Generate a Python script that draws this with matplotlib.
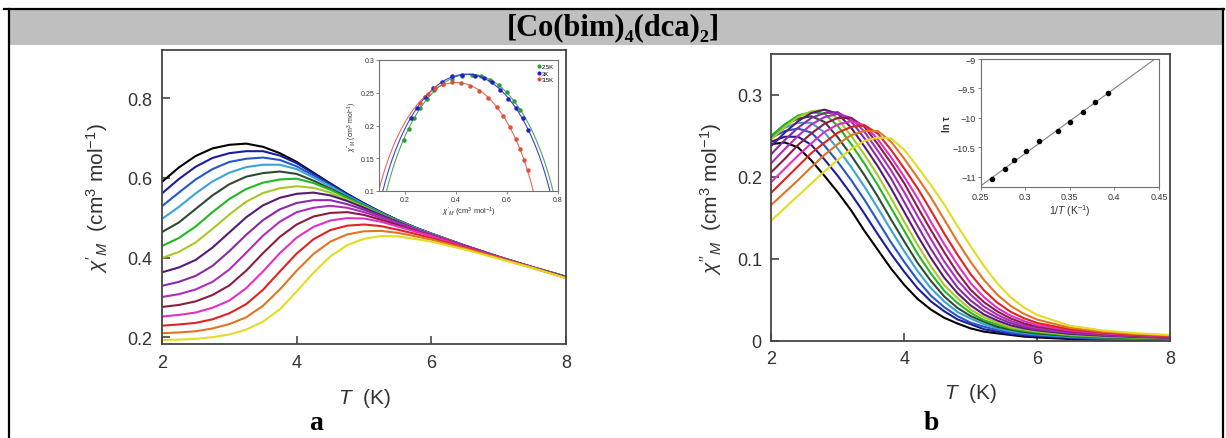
"""AC susceptibility of [Co(bim)4(dca)2].

Panel a: in-phase chi'_M versus T with a Cole-Cole inset.
Panel b: out-of-phase chi''_M versus T with an Arrhenius inset.
"""

import numpy as np
import matplotlib
matplotlib.use("Agg")
import matplotlib.pyplot as plt
from matplotlib.lines import Line2D
from matplotlib.patches import Rectangle

W, H = 1226, 439

# ---------------------------------------------------------------- panel a data
T_RE = [2.0, 2.25, 2.5, 2.75, 3.0, 3.25, 3.5, 3.75, 4.0, 4.25, 4.5,
        4.75, 5.0, 5.25, 5.5, 5.75, 6.0, 6.5, 7.0, 7.5, 8.0]

re_black = [.590, .626, .655, .674, .683, .686, .678, .662, .640, .613, .586,
            .560, .536, .514, .494, .476, .460, .430, .402, .376, .352]
re_navy = [.561, .597, .628, .650, .662, .667, .667, .656, .637, .611, .585,
           .559, .536, .514, .494, .476, .460, .430, .402, .376, .352]
re_blue = [.529, .563, .596, .622, .640, .648, .651, .645, .629, .606, .581,
           .557, .534, .513, .493, .476, .460, .430, .402, .376, .352]
re_cyan = [.497, .527, .561, .591, .613, .627, .633, .633, .622, .601, .579,
           .555, .533, .512, .493, .475, .459, .430, .402, .376, .351]
re_dkgreen = [.464, .488, .522, .556, .584, .603, .612, .616, .610, .593, .573,
              .552, .530, .510, .492, .474, .459, .429, .401, .375, .351]
re_green = [.429, .449, .478, .514, .547, .572, .588, .596, .598, .587, .570,
            .550, .530, .510, .492, .474, .459, .429, .401, .375, .351]
re_lime = [.399, .414, .438, .472, .508, .540, .562, .574, .579, .575, .563,
           .545, .527, .508, .490, .474, .459, .429, .401, .375, .351]
re_indigo = [.363, .375, .394, .425, .463, .501, .531, .550, .560, .563, .556,
             .542, .525, .507, .490, .473, .458, .429, .401, .375, .350]
re_purple = [.329, .339, .354, .379, .416, .457, .494, .521, .537, .544, .544,
             .534, .520, .504, .488, .472, .458, .429, .401, .375, .350]
re_violet = [.301, .308, .320, .339, .370, .412, .455, .490, .514, .525, .530,
             .525, .514, .500, .486, .471, .457, .429, .401, .375, .350]
re_maroon = [.276, .281, .290, .306, .330, .367, .411, .452, .483, .503, .512,
             .514, .507, .495, .482, .468, .455, .428, .401, .375, .350]
re_magenta = [.252, .256, .262, .274, .292, .323, .365, .411, .450, .477, .493,
              .499, .498, .490, .478, .466, .454, .427, .401, .375, .349]
re_red = [.229, .232, .236, .245, .260, .283, .319, .365, .410, .446, .469,
          .480, .483, .479, .470, .460, .449, .425, .400, .375, .349]
re_orange = [.210, .212, .215, .222, .233, .250, .279, .320, .367, .409, .440,
             .458, .466, .467, .462, .454, .445, .423, .399, .374, .349]
re_yellow = [.193, .194, .196, .200, .207, .219, .239, .270, .315, .362, .403,
             .431, .447, .454, .453, .447, .440, .420, .397, .374, .348]

# ---------------------------------------------------------------- panel b data
T_IM = [2.0, 2.2, 2.4, 2.6, 2.8, 3.0, 3.2, 3.4, 3.6, 3.8, 4.0, 4.2, 4.4,
        4.6, 4.8, 5.0, 5.2, 5.4, 5.6, 5.8, 6.0, 6.5, 7.0, 7.5, 8.0]

im_black = [.240, .242, .236, .220, .201, .181, .159, .134, .111, .088, .068,
            .051, .038, .028, .021, .015, .011, .009, .007, .005, .004, .002,
            .001, .001, .000]
im_navy = [.243, .249, .249, .239, .221, .201, .179, .155, .130, .106, .084,
           .064, .048, .036, .026, .020, .014, .011, .008, .0064, .0055,
           .0035, .002, .0014, .0009]
im_blue = [.248, .256, .259, .254, .238, .218, .196, .172, .146, .120, .096,
           .074, .055, .041, .030, .022, .017, .013, .010, .008, .0066, .004,
           .0023, .0015, .0011]
im_cyan = [.250, .260, .266, .266, .254, .234, .212, .188, .162, .135, .109,
           .085, .064, .048, .035, .027, .020, .015, .012, .0093, .0078,
           .0048, .0033, .0023, .0017]
im_dkgreen = [.250, .264, .271, .274, .267, .248, .226, .202, .176, .148, .121,
              .095, .073, .054, .040, .030, .023, .017, .0135, .0107, .0088,
              .0056, .0038, .0028, .0022]
im_green = [.250, .264, .275, .279, .277, .262, .240, .216, .190, .162, .134,
            .106, .082, .061, .046, .034, .025, .0196, .0149, .0121, .0103,
            .0063, .0045, .0034, .0027]
im_lime = [.246, .261, .273, .280, .282, .271, .250, .227, .202, .174, .145,
           .117, .091, .068, .052, .038, .0285, .0219, .0162, .0136, .0113,
           .0074, .0052, .004, .0031]
im_indigo = [.238, .254, .268, .278, .282, .277, .260, .237, .213, .186, .157,
             .128, .101, .077, .058, .043, .032, .0246, .0188, .0151, .0126,
             .0083, .006, .0045, .0035]
im_purple = [.228, .245, .260, .272, .278, .279, .268, .247, .223, .198, .169,
             .140, .112, .087, .065, .049, .0367, .0281, .0215, .0168, .0138,
             .0093, .0067, .005, .0039]
im_violet = [.217, .234, .250, .264, .273, .277, .272, .255, .232, .208, .181,
             .152, .124, .097, .074, .056, .0416, .0317, .0241, .0189, .0156,
             .0104, .0074, .0057, .0044]
im_maroon = [.206, .222, .239, .253, .265, .272, .272, .261, .240, .217, .192,
             .163, .135, .108, .083, .062, .047, .0357, .0272, .0212, .0172,
             .0113, .0082, .0061, .0048]
im_magenta = [.194, .210, .226, .241, .255, .264, .268, .263, .246, .224, .200,
              .174, .145, .118, .093, .070, .0532, .0399, .0306, .024, .019,
              .0124, .0088, .0067, .0052]
im_red = [.181, .197, .213, .229, .242, .254, .261, .263, .253, .233, .210,
          .186, .159, .131, .105, .081, .0614, .0465, .0353, .0275, .0216,
          .0138, .0098, .0074, .0057]
im_orange = [.166, .181, .196, .212, .227, .240, .251, .256, .256, .243, .222,
             .199, .175, .148, .121, .096, .074, .0561, .0426, .0328, .0258,
             .0156, .0109, .0082, .0063]
im_yellow = [.147, .162, .177, .192, .207, .221, .234, .244, .248, .247, .233,
             .212, .190, .1665, .140, .115, .091, .070, .053, .0406, .0314,
             .0181, .0124, .0091, .007]

COLORS = ["#000000", "#1c1c9c", "#2458c8", "#3aa4d8", "#2f4a34", "#22b822",
          "#a8c828", "#561a78", "#8a2aa4", "#b02cc0", "#8c1c44", "#e030c8",
          "#e22222", "#e27424", "#e2dc22"]

RE_CURVES = [re_black, re_navy, re_blue, re_cyan, re_dkgreen, re_green,
             re_lime, re_indigo, re_purple, re_violet, re_maroon, re_magenta,
             re_red, re_orange, re_yellow]
IM_CURVES = [im_black, im_navy, im_blue, im_cyan, im_dkgreen, im_green,
             im_lime, im_indigo, im_purple, im_violet, im_maroon, im_magenta,
             im_red, im_orange, im_yellow]

# ---------------------------------------------------- Cole-Cole inset (panel a)
COLE_LABELS = ["2.5K", "3K", "3.5K"]
COLE_COLORS = ["#2e9a3a", "#1f1fd0", "#e0503c"]
cole_x_25 = [0.198, 0.216, 0.236, 0.259, 0.286, 0.317, 0.351, 0.387, 0.425,
             0.463, 0.500, 0.536, 0.570, 0.601, 0.628, 0.651]
cole_y_25 = [0.178, 0.195, 0.211, 0.227, 0.241, 0.254, 0.264, 0.271, 0.276,
             0.277, 0.275, 0.270, 0.262, 0.251, 0.238, 0.224]
cole_x_30 = [0.224, 0.250, 0.280, 0.312, 0.348, 0.387, 0.426, 0.475, 0.510,
             0.541, 0.573, 0.606, 0.636, 0.662, 0.684]
cole_y_30 = [0.211, 0.227, 0.244, 0.257, 0.267, 0.275, 0.277, 0.276, 0.272,
             0.267, 0.254, 0.241, 0.226, 0.211, 0.193]
cole_x_35 = [0.262, 0.290, 0.318, 0.349, 0.384, 0.421, 0.456, 0.492, 0.527,
             0.560, 0.586, 0.612, 0.635, 0.651, 0.667, 0.682]
cole_y_35 = [0.235, 0.248, 0.257, 0.264, 0.266, 0.265, 0.261, 0.253, 0.242,
             0.228, 0.214, 0.197, 0.179, 0.164, 0.147, 0.132]

# -------------------------------------------------- Arrhenius inset (panel b)
inv_T = [0.2634, 0.2772, 0.2875, 0.3014, 0.3155, 0.3372, 0.3506, 0.3647,
         0.3781, 0.3930]
ln_tau = [-11.044, -10.874, -10.720, -10.558, -10.393, -10.229, -10.065,
          -9.900, -9.736, -9.578]

plt.rcParams["font.family"] = ["Liberation Sans", "DejaVu Sans"]
plt.rcParams["mathtext.fontset"] = "custom"
plt.rcParams["mathtext.rm"] = "Liberation Sans"
plt.rcParams["mathtext.it"] = "Liberation Sans:italic"
plt.rcParams["mathtext.bf"] = "Liberation Sans:bold"

TEXT = "#333333"
SPINE = "#454545"
SERIF = ["Liberation Serif", "DejaVu Serif"]


def box(x0, y0, x1, y1):
    """Pixel rectangle (left, top, right, bottom) -> figure fraction."""
    return [x0 / W, 1 - y1 / H, (x1 - x0) / W, (y1 - y0) / H]


def style_main(ax):
    for sp in ax.spines.values():
        sp.set_color(SPINE)
        sp.set_linewidth(1.3)
    ax.tick_params(direction="in", length=6, width=1.2, color=SPINE,
                   labelsize=13, labelcolor=TEXT, pad=7)


def style_inset(ax, size):
    for sp in ax.spines.values():
        sp.set_color("#707070")
        sp.set_linewidth(0.8)
    ax.tick_params(direction="out", length=2, width=0.6, color="#707070",
                   labelsize=size, labelcolor=TEXT, pad=1.5)


def fit_circle(x, y):
    """Least-squares circle through the points: centre and radius."""
    x = np.asarray(x)
    y = np.asarray(y)
    A = np.column_stack([x, y, np.ones_like(x)])
    D, E, F = np.linalg.lstsq(A, -(x ** 2 + y ** 2), rcond=None)[0]
    cx, cy = -D / 2, -E / 2
    return cx, cy, np.sqrt(cx ** 2 + cy ** 2 - F)


fig = plt.figure(figsize=(W / 100, H / 100), dpi=100)

# table-style header and borders
fig.add_artist(Rectangle((9 / W, 1 - 46 / H), 1214 / W, 36 / H,
                         transform=fig.transFigure, facecolor="#bfbfbf",
                         edgecolor="none"))
fig.add_artist(Line2D([4 / W, 1224 / W], [1 - 10 / H, 1 - 10 / H],
                      transform=fig.transFigure, color="black", lw=1.6))
for xb in (9, 1223):
    fig.add_artist(Line2D([xb / W, xb / W], [0, 1 - 10 / H],
                          transform=fig.transFigure, color="black", lw=1.6))
fig.text(613 / W, 1 - 28 / H, "[Co(bim)\u2084(dca)\u2082]", ha="center",
         va="center", fontsize=22, fontweight="bold", family=SERIF)

# ----------------------------------------------------------------- panel a
ax1 = fig.add_axes(box(162, 51, 566, 345))
for vals, c in zip(RE_CURVES, COLORS):
    ax1.plot(T_RE, vals, color=c, lw=1.5)
ax1.set_xlim(2, 8)
ax1.set_ylim(0.183, 0.921)
ax1.set_xticks([2, 4, 6, 8])
ax1.set_yticks([0.2, 0.4, 0.6, 0.8])
style_main(ax1)
ax1.set_xlabel(r"$T$  (K)", fontsize=15, color=TEXT, labelpad=11)
ax1.set_ylabel(r"$\chi'_M$  (cm$^3$ mol$^{-1}$)", fontsize=15, color=TEXT,
               labelpad=12)

ins1 = fig.add_axes(box(379, 61, 558, 192))
cole_sets = [(cole_x_25, cole_y_25), (cole_x_30, cole_y_30),
             (cole_x_35, cole_y_35)]
theta = np.linspace(0, np.pi, 400)
for (cx_pts, cy_pts), c, lab in zip(cole_sets, COLE_COLORS, COLE_LABELS):
    cx, cy, r = fit_circle(cx_pts, cy_pts)
    ins1.plot(cx + r * np.cos(theta), cy + r * np.sin(theta), color=c,
              lw=0.8, alpha=0.85)
    ins1.plot(cx_pts, cy_pts, "o", color=c, ms=2.2, label=lab)
ins1.set_xlim(0.1, 0.8)
ins1.set_ylim(0.1, 0.3)
ins1.set_xticks([0.2, 0.4, 0.6, 0.8])
ins1.set_yticks([0.1, 0.15, 0.2, 0.25, 0.3])
ins1.set_xticklabels(["0.2", "0.4", "0.6", "0.8"])
ins1.set_yticklabels(["0.1", "0.15", "0.2", "0.25", "0.3"])
style_inset(ins1, 5)
ins1.set_xlabel(r"$\chi'_M$ (cm$^3$ mol$^{-1}$)", fontsize=5.5, color=TEXT,
                labelpad=1)
ins1.set_ylabel(r"$\chi''_M$ (cm$^3$ mol$^{-1}$)", fontsize=5, color=TEXT,
                labelpad=1)
ins1.legend(loc="upper right", fontsize=4.2, frameon=False, handletextpad=0.1,
            handlelength=0.8, labelspacing=0.25, borderaxespad=0.3,
            markerscale=0.9)

# ----------------------------------------------------------------- panel b
ax2 = fig.add_axes(box(771.5, 55, 1170, 341.7))
for vals, c in zip(IM_CURVES, COLORS):
    ax2.plot(T_IM, vals, color=c, lw=1.5)
ax2.set_xlim(2, 8)
ax2.set_ylim(0, 0.35)
ax2.set_xticks([2, 4, 6, 8])
ax2.set_yticks([0, 0.1, 0.2, 0.3])
ax2.set_yticklabels(["0", "0.1", "0.2", "0.3"])
style_main(ax2)
ax2.set_xlabel(r"$T$  (K)", fontsize=15, color=TEXT, labelpad=10)
ax2.set_ylabel(r"$\chi''_M$  (cm$^3$ mol$^{-1}$)", fontsize=15, color=TEXT,
               labelpad=9)

ins2 = fig.add_axes(box(980.5, 60, 1159, 188.3))
slope, icpt = np.polyfit(inv_T, ln_tau, 1)
xl = np.array([0.25, 0.45])
ins2.plot(xl, slope * xl + icpt, color="#808080", lw=0.8)
ins2.plot(inv_T, ln_tau, "o", color="black", ms=3)
ins2.set_xlim(0.25, 0.45)
ins2.set_ylim(-11.18, -9)
ins2.set_xticks([0.25, 0.3, 0.35, 0.4, 0.45])
ins2.set_xticklabels(["0.25", "0.3", "0.35", "0.4", "0.45"])
ins2.set_yticks([-11, -10.5, -10, -9.5, -9])
ins2.set_yticklabels(["\u221211", "\u221210.5", "\u221210", "\u22129.5",
                      "\u22129"])
style_inset(ins2, 6.5)
ins2.set_xlabel(r"1/$T$ (K$^{-1}$)", fontsize=7.5, color=TEXT, labelpad=1)
ins2.set_ylabel("ln \u03c4", fontsize=7, color=TEXT, fontweight="bold",
                labelpad=1)

# panel letters
for xc, lab in ((316, "a"), (931, "b")):
    fig.text(xc / W, 1 - 424 / H, lab, ha="center", va="center", fontsize=20,
             fontweight="bold", family=SERIF)

fig.savefig("out.png", dpi=100)
